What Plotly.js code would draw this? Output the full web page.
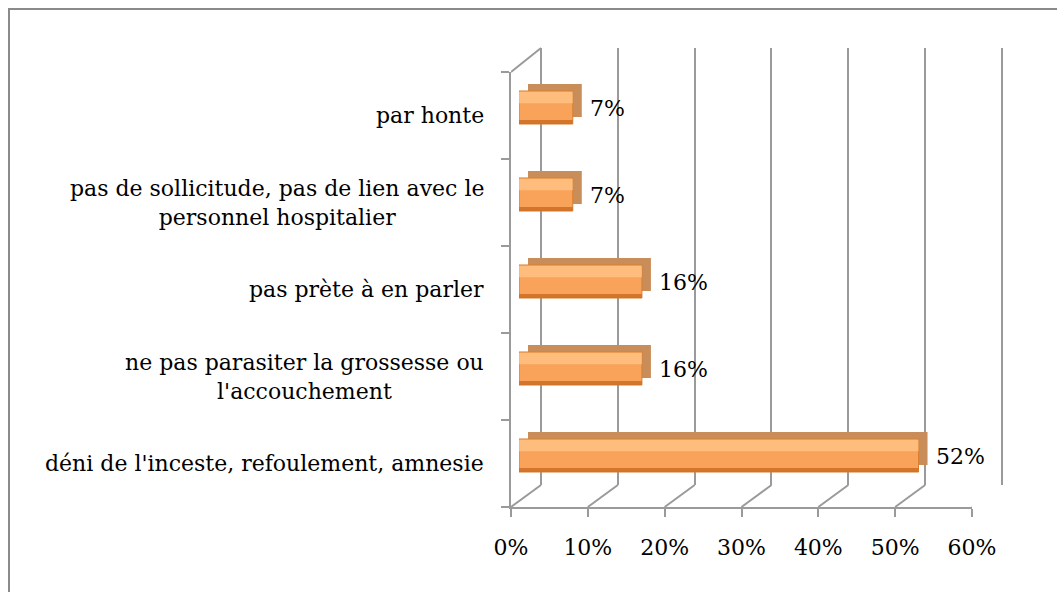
<!DOCTYPE html>
<html>
<head>
<meta charset="utf-8">
<script src="https://cdn.plot.ly/plotly-3.0.1.min.js"></script>
<style>html,body{margin:0;padding:0;background:#fff;}#chart{width:1057px;height:592px;}</style>
</head>
<body>
<div id="chart"></div>
<script>
// ---- data ----
var categories = [
  "déni de l'inceste, refoulement, amnesie",
  "ne pas parasiter la grossesse ou<br>l'accouchement",
  "pas prète à en parler",
  "pas de sollicitude, pas de lien avec le<br>personnel hospitalier",
  "par honte"
];
var values = [52, 16, 16, 7, 7];
var tickVals = [0, 10, 20, 30, 40, 50, 60];
var tickText = tickVals.map(function (v) { return v + '%'; });

// ---- layout helpers (pixel -> paper) ----
var W = 1057, H = 592;
function px(x) { return x / W; }
function py(y) { return 1 - y / H; }
function xd(a, b) { return [px(a), px(b)]; }
function yd(top, bottom) { return [py(bottom), py(top)]; }

var FONT = 'DejaVu Serif';
var GRID = '#9a9a9a';
var yRange = [-0.5, categories.length - 0.5];
var PPU = 461 / 60;   // pixels per percent point
var PAD = 1;          // range padding for back wall so edge gridlines render

var traces = [
  { // carrier for back-wall grid subplot (draws nothing)
    type: 'scatter', mode: 'none', x: values, y: categories,
    xaxis: 'x2', yaxis: 'y2', hoverinfo: 'skip', showlegend: false
  },
  { // back (top / side faces)
    type: 'bar', orientation: 'h', x: values, y: categories,
    xaxis: 'x3', yaxis: 'y3', width: 0.38,
    marker: { color: '#c98d5a', line: { width: 0 } },
    hoverinfo: 'skip', showlegend: false
  },
  { // front face
    type: 'bar', orientation: 'h', x: values, y: categories,
    xaxis: 'x4', yaxis: 'y4', width: 0.38,
    marker: { color: '#f9a259', line: { color: '#d8802f', width: 1 } },
    hoverinfo: 'skip', showlegend: false
  },
  { // highlight on upper front face
    type: 'bar', orientation: 'h', x: values, y: categories,
    xaxis: 'x4', yaxis: 'y4', width: 0.13, offset: 0.05,
    marker: { color: 'rgba(255,196,138,0.75)', line: { width: 0 } },
    hoverinfo: 'skip', showlegend: false
  },
  { // darker lower edge
    type: 'bar', orientation: 'h', x: values, y: categories,
    xaxis: 'x4', yaxis: 'y4', width: 0.045, offset: -0.19,
    marker: { color: 'rgba(205,110,35,0.85)', line: { width: 0 } },
    hoverinfo: 'skip', showlegend: false
  }
];

var baseX = { range: [0, 60], fixedrange: true, zeroline: false };
var baseY = { type: 'category', categoryarray: categories, range: yRange, fixedrange: true, zeroline: false };

var layout = {
  width: W, height: H,
  margin: { l: 0, r: 0, t: 0, b: 0 },
  paper_bgcolor: '#ffffff', plot_bgcolor: 'rgba(0,0,0,0)',
  barmode: 'overlay', showlegend: false,
  font: { family: FONT, size: 22, color: '#000' },
  // front plane: axis lines, ticks, labels
  xaxis: Object.assign({}, baseX, {
    domain: xd(511, 972), anchor: 'y',
    tickmode: 'array', tickvals: tickVals, ticktext: tickText,
    showgrid: false, showline: true, linecolor: GRID, linewidth: 2,
    ticks: 'outside', ticklen: 8, tickwidth: 2, tickcolor: GRID,
    ticklabelstandoff: 12,
    tickfont: { family: FONT, size: 22, color: '#000' }
  }),
  yaxis: Object.assign({}, baseY, {
    domain: yd(72, 507), anchor: 'x',
    showgrid: false, showline: true, linecolor: GRID, linewidth: 2,
    ticks: 'outside', tickson: 'boundaries', ticklen: 8, tickwidth: 2, tickcolor: GRID,
    showticklabels: false
  }),
  // back wall gridlines
  xaxis2: Object.assign({}, baseX, {
    range: [-PAD, 60 + PAD],
    domain: xd(541 - PAD * PPU, 1002 + PAD * PPU), anchor: 'y2',
    tickmode: 'array', tickvals: tickVals,
    showgrid: true, gridcolor: GRID, gridwidth: 2,
    zeroline: false,
    showline: false, showticklabels: false, ticks: ''
  }),
  yaxis2: Object.assign({}, baseY, {
    domain: yd(48, 485), anchor: 'x2',
    showgrid: false, showline: false, showticklabels: false, ticks: ''
  }),
  // back of bars
  xaxis3: Object.assign({}, baseX, { domain: xd(528, 989), anchor: 'y3', visible: false }),
  yaxis3: Object.assign({}, baseY, { domain: yd(57, 492), anchor: 'x3', visible: false }),
  // front of bars
  xaxis4: Object.assign({}, baseX, { domain: xd(519, 980), anchor: 'y4', visible: false }),
  yaxis4: Object.assign({}, baseY, { domain: yd(64, 499), anchor: 'x4', visible: false }),
  shapes: [],
  annotations: []
};

// back-wall left edge (0% line on the back plane; Plotly skips the grid line at zero)
layout.shapes.push({
  type: 'line', xref: 'x', xsizemode: 'pixel', xanchor: tickVals[0], x0: 30, x1: 30,
  yref: 'paper', y0: py(485), y1: py(48),
  line: { color: GRID, width: 2 }, layer: 'below'
});
// floor diagonals at each tick
tickVals.forEach(function (v) {
  layout.shapes.push({
    type: 'line', xref: 'x', xsizemode: 'pixel', xanchor: v, x0: 0, x1: 30,
    yref: 'paper', ysizemode: 'pixel', yanchor: py(507), y0: 0, y1: 22,
    line: { color: GRID, width: 2 }, layer: 'below'
  });
});
// left wall top diagonal
layout.shapes.push({
  type: 'line', xref: 'x', xsizemode: 'pixel', xanchor: tickVals[0], x0: 0, x1: 30,
  yref: 'paper', ysizemode: 'pixel', yanchor: py(72), y0: 0, y1: 24,
  line: { color: GRID, width: 2 }, layer: 'below'
});
// outer chart border
layout.shapes.push({
  type: 'rect', xref: 'paper', yref: 'paper',
  x0: px(9), y0: py(9), x1: 1.02, y1: -0.03,
  line: { color: '#8a8a8a', width: 2 }, fillcolor: 'rgba(0,0,0,0)', layer: 'below'
});

// category labels (centred multi-line, right-aligned block)
categories.forEach(function (c) {
  layout.annotations.push({
    xref: 'paper', x: px(486), xanchor: 'right',
    yref: 'y', y: c, yanchor: 'middle',
    text: c, align: 'center', showarrow: false,
    font: { family: FONT, size: 22, color: '#000' }
  });
});
// value labels
values.forEach(function (v, i) {
  layout.annotations.push({
    xref: 'x4', x: v, yref: 'y4', y: categories[i],
    xanchor: 'left', yanchor: 'middle', xshift: 15, yshift: -1,
    text: v + '%', showarrow: false,
    font: { family: FONT, size: 22, color: '#000' }
  });
});

Plotly.newPlot('chart', traces, layout, { staticPlot: true, displayModeBar: false });
</script>
</body>
</html>
